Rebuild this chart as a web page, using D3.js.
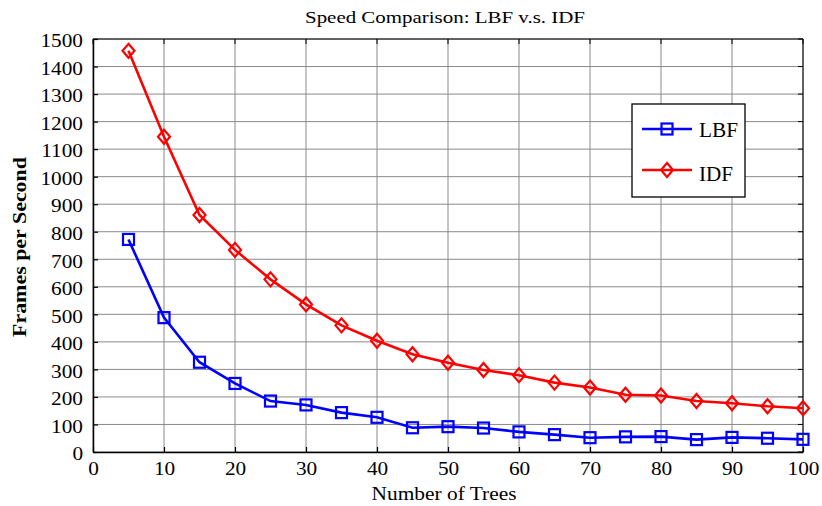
<!DOCTYPE html>
<html><head><meta charset="utf-8">
<script src="https://cdn.jsdelivr.net/npm/d3@7"></script>
<style>
body{margin:0;background:#fff;}
svg text{font-family:"Times New Roman","Liberation Serif",Tinos,"DejaVu Serif",serif !important;fill:#000;}
</style></head>
<body>
<svg id="chart" width="822" height="506"></svg>
<script>
const trees = [5,10,15,20,25,30,35,40,45,50,55,60,65,70,75,80,85,90,95,100];
const lbf = [772,488,326,249,185,171,143,126,88,92,87,73,63,52,55,56,45,53,50,46];
const idf = [1457,1145,861,734,627,536,460,404,355,324,298,279,252,234,208,205,185,177,166,159];
const xTicks = [0,10,20,30,40,50,60,70,80,90,100];
const yTicks = [0,100,200,300,400,500,600,700,800,900,1000,1100,1200,1300,1400,1500];
const seriesNames = ["LBF","IDF"];
const seriesColors = ["#0000ff","#ff0000"];

const svg = d3.select("#chart");
const L=93, R=803, T=39, B=452;
const x = d3.scaleLinear().domain([0,100]).range([L,R]);
const y = d3.scaleLinear().domain([0,1500]).range([B,T]);

function stretch(sel, factor){
  sel.each(function(){
    const w = this.getComputedTextLength();
    d3.select(this).attr("textLength", w*factor).attr("lengthAdjust","spacingAndGlyphs");
  });
}
function toWidth(sel, target){
  sel.attr("textLength", target).attr("lengthAdjust","spacingAndGlyphs");
}

// grid
const g = svg.append("g");
g.selectAll(".gx").data(xTicks).enter().append("line")
  .attr("x1",d=>x(d)).attr("x2",d=>x(d)).attr("y1",T).attr("y2",B)
  .attr("stroke","#8a8a8a").attr("stroke-width",1);
g.selectAll(".gy").data(yTicks).enter().append("line")
  .attr("x1",L).attr("x2",R).attr("y1",d=>y(d)).attr("y2",d=>y(d))
  .attr("stroke","#8a8a8a").attr("stroke-width",1);

// axes
const fmt = d3.format("d");
const xAxis = d3.axisBottom(x).tickValues(xTicks).tickFormat(fmt).tickSizeInner(-5).tickSizeOuter(0).tickPadding(9.5);
const yAxis = d3.axisLeft(y).tickValues(yTicks).tickFormat(fmt).tickSizeInner(-5).tickSizeOuter(0).tickPadding(10);
const gx = svg.append("g").attr("transform",`translate(0,${B})`).call(xAxis);
const gy = svg.append("g").attr("transform",`translate(${L},0)`).call(yAxis);
[gx,gy].forEach(a=>{
  a.attr("font-family",null).attr("font-size",null);
  a.select(".domain").attr("stroke","#000").attr("stroke-width",1.5);
  a.selectAll(".tick line").attr("stroke","#000").attr("stroke-width",1.2);
  a.selectAll("text").style("font-size","18.5px").attr("fill","#000");
});
gy.selectAll("text").attr("dy","0.42em");
stretch(gx.selectAll("text"),1.15);
stretch(gy.selectAll("text"),1.15);
// right and top ticks
const gr = svg.append("g");
gr.append("line").attr("x1",L).attr("x2",R).attr("y1",T).attr("y2",T).attr("stroke","#000").attr("stroke-width",1);
gr.append("line").attr("x1",R).attr("x2",R).attr("y1",T).attr("y2",B).attr("stroke","#000").attr("stroke-width",1);
gr.selectAll(".tr").data(yTicks).enter().append("line")
  .attr("x1",R).attr("x2",R-5).attr("y1",d=>y(d)).attr("y2",d=>y(d)).attr("stroke","#000");
gr.selectAll(".tt").data(xTicks).enter().append("line")
  .attr("x1",d=>x(d)).attr("x2",d=>x(d)).attr("y1",T).attr("y2",T+5).attr("stroke","#000");

// lines
const line = d3.line().x((d,i)=>x(trees[i])).y(d=>y(d));
const datasets = [lbf, idf];
datasets.forEach((ds,k)=>{
  svg.append("path").datum(ds).attr("d",line).attr("fill","none")
    .attr("stroke",seriesColors[k]).attr("stroke-width",2.6);
});
function marker(sel,k,cx,cy){
  if(k===0){
    sel.append("rect").attr("x",cx-5.5).attr("y",cy-5.5).attr("width",11).attr("height",11)
      .attr("fill","none").attr("stroke",seriesColors[0]).attr("stroke-width",2.2);
  } else {
    const s=7;
    sel.append("path").attr("d",`M${cx},${cy-s}L${cx+s-1},${cy}L${cx},${cy+s}L${cx-s+1},${cy}Z`)
      .attr("fill","none").attr("stroke",seriesColors[1]).attr("stroke-width",2.2);
  }
}
datasets.forEach((ds,k)=>{
  const mg = svg.append("g");
  ds.forEach((v,i)=>marker(mg,k,x(trees[i]),y(v)));
});

// legend
const lg = svg.append("g");
lg.append("rect").attr("x",632).attr("y",104).attr("width",113).attr("height",93)
  .attr("fill","#fff").attr("stroke","#000").attr("stroke-width",1.3);
const legY = [129,170], legBase=[136.7,180.5], legW=[39,34];
seriesNames.forEach((n,k)=>{
  const yy = legY[k];
  lg.append("line").attr("x1",642).attr("x2",692).attr("y1",yy).attr("y2",yy)
    .attr("stroke",seriesColors[k]).attr("stroke-width",2.6);
  marker(lg,k,667,yy);
  lg.append("text").attr("x",699).attr("y",legBase[k]).style("font-size","20px").text(n)
    .call(toWidth, legW[k]);
});

// title and labels
svg.append("text").attr("x",445).attr("y",22.5).attr("text-anchor","middle")
  .style("font-size","17px").text("Speed Comparison: LBF v.s. IDF").call(toWidth,280);
svg.append("text").attr("x",444).attr("y",500).attr("text-anchor","middle")
  .style("font-size","19.5px").text("Number of Trees").call(toWidth,145);
svg.append("text").attr("transform","translate(26,247) rotate(-90)").attr("text-anchor","middle")
  .style("font-size","19.5px").style("font-weight","bold").text("Frames per Second").call(toWidth,180);
</script>
</body></html>
